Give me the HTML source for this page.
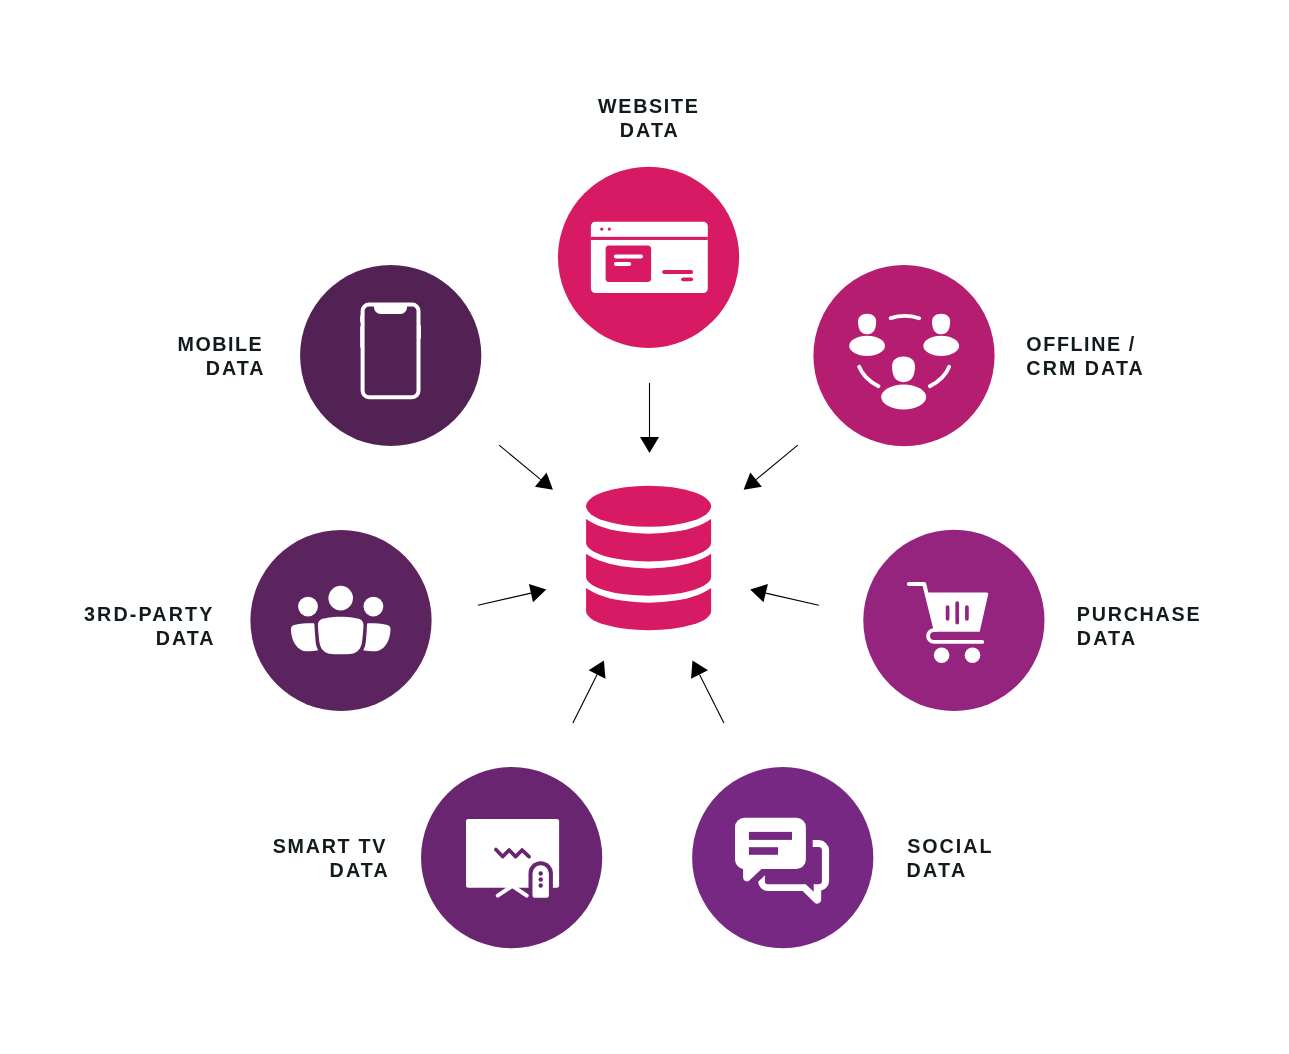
<!DOCTYPE html>
<html lang="en"><head><meta charset="utf-8"><title>Data sources</title>
<style>
html,body{margin:0;padding:0;background:#fff;}
body{width:1289px;height:1054px;overflow:hidden;}
svg{display:block;will-change:transform;}
text{font-family:"Liberation Sans",Arial,Helvetica,sans-serif;font-weight:700;font-size:19.7px;fill:#111a1c;}
</style></head><body>
<svg role="img" aria-label="Data sources feeding a central database" width="1289" height="1054" viewBox="0 0 1289 1054">
<g id="arrows" fill="#000" stroke="none">
<line x1="649.5" y1="383.0" x2="649.5" y2="437.0" stroke="#000" stroke-width="1.1"/>
<polygon points="649.5,453.1 640.0,437.0 659.0,437.0"/>
<line x1="499.1" y1="445.1" x2="540.8" y2="479.6" stroke="#000" stroke-width="1.1"/>
<polygon points="552.9,489.7 546.6,472.6 534.9,486.7"/>
<line x1="797.8" y1="445.1" x2="756.1" y2="479.6" stroke="#000" stroke-width="1.1"/>
<polygon points="743.6,489.7 750.3,472.6 761.9,486.7"/>
<line x1="477.9" y1="605.2" x2="531.0" y2="593.1" stroke="#000" stroke-width="1.1"/>
<polygon points="546.3,589.4 528.9,584.0 533.0,602.2"/>
<line x1="818.8" y1="605.2" x2="765.7" y2="593.1" stroke="#000" stroke-width="1.1"/>
<polygon points="750.2,589.4 767.9,584.0 763.5,602.2"/>
<line x1="572.9" y1="723.0" x2="597.1" y2="674.5" stroke="#000" stroke-width="1.1"/>
<polygon points="603.9,660.6 588.7,670.2 605.5,678.8"/>
<line x1="723.9" y1="723.0" x2="699.5" y2="674.5" stroke="#000" stroke-width="1.1"/>
<polygon points="692.5,660.6 708.0,670.2 691.0,678.8"/>
</g>
<g id="database">
<path fill="#d81a65" d="M586.1,575.3 L586.1,611.1 A62.5,19.1 0 0 0 711.1,611.1 L711.1,575.3 Z"/>
<ellipse cx="648.6" cy="575.3" rx="70.5" ry="27.4" fill="#fff"/>
<path fill="#d81a65" d="M586.1,541.0 L586.1,576.7 A62.5,19.1 0 0 0 711.1,576.7 L711.1,541.0 Z"/>
<ellipse cx="648.6" cy="541.0" rx="70.5" ry="27.4" fill="#fff"/>
<path fill="#d81a65" d="M586.1,506.3 L586.1,542.4 A62.5,19.1 0 0 0 711.1,542.4 L711.1,506.3 Z"/>
<ellipse cx="648.6" cy="506.3" rx="70.5" ry="27.4" fill="#fff"/>
<ellipse cx="648.6" cy="506.3" rx="62.5" ry="20.5" fill="#d81a65"/>
</g>
<g id="circles">
<circle cx="648.55" cy="257.3" r="90.6" fill="#d81a65"/>
<circle cx="390.7" cy="355.5" r="90.6" fill="#522255"/>
<circle cx="904.0" cy="355.6" r="90.6" fill="#b51e70"/>
<circle cx="341.0" cy="620.5" r="90.6" fill="#5c245e"/>
<circle cx="953.9" cy="620.45" r="90.6" fill="#95247e"/>
<circle cx="511.65" cy="857.65" r="90.6" fill="#69256f"/>
<circle cx="782.75" cy="857.65" r="90.6" fill="#772882"/>
</g>
<g id="icon-website">
<rect x="590.9" y="221.7" width="116.9" height="71.4" rx="4.5" fill="#fff"/>
<rect x="590.9" y="236.85" width="116.9" height="3.1" fill="#d81a65"/>
<circle cx="601.8" cy="229.1" r="1.7" fill="#d81a65"/>
<circle cx="609.3" cy="229.1" r="1.7" fill="#d81a65"/>
<rect x="605.6" y="245.6" width="45.5" height="36.3" rx="3.5" fill="#d81a65"/>
<rect x="613.9" y="254.6" width="29" height="4" rx="2" fill="#fff"/>
<rect x="613.9" y="261.9" width="17.3" height="4" rx="2" fill="#fff"/>
<rect x="662.1" y="270.0" width="31" height="4.1" rx="2.05" fill="#d81a65"/>
<rect x="681.1" y="277.4" width="12" height="3.9" rx="1.95" fill="#d81a65"/>
</g>
<g id="icon-mobile" fill="none" stroke="#fff">
<rect x="362.6" y="304.4" width="55.9" height="92.8" rx="6.5" stroke-width="4"/>
<path d="M374,304.4 v3 a6.5,6.5 0 0 0 6.5,6.5 h20 a6.5,6.5 0 0 0 6.5,-6.5 v-3" fill="#fff" stroke="none"/>
<path d="M361,316 v6 M361,327 v20 M420.2,326 v12" stroke-width="1.6" stroke-linecap="round"/>
</g>
<g id="icon-offline" fill="#fff">
<path d="M867.1,313.7 C872.71,313.7 876.15,316.77 876.15,321.49 C876.15,329.69 873.25,334.20 867.1,334.20 C860.95,334.20 858.05,329.69 858.05,321.49 C858.05,316.77 861.49,313.7 867.1,313.7 Z"/>
<path d="M941.1,313.7 C946.71,313.7 950.15,316.77 950.15,321.49 C950.15,329.69 947.25,334.20 941.1,334.20 C934.95,334.20 932.05,329.69 932.05,321.49 C932.05,316.77 935.49,313.7 941.1,313.7 Z"/>
<path d="M903.5,356.6 C910.60,356.6 914.95,360.44 914.95,366.33 C914.95,376.57 911.29,382.20 903.5,382.20 C895.71,382.20 892.05,376.57 892.05,366.33 C892.05,360.44 896.40,356.6 903.5,356.6 Z"/>
<ellipse cx="867.1" cy="345.85" rx="17.9" ry="10.1"/>
<ellipse cx="941.2" cy="345.85" rx="17.9" ry="10.1"/>
<ellipse cx="903.7" cy="397" rx="22.5" ry="12.5"/>
<g fill="none" stroke="#fff" stroke-width="3.8" stroke-linecap="round">
<path d="M890.6,318.1 Q904.8,313.6 919.2,318.2"/>
<path d="M859.2,366.7 Q863.8,378.6 878.5,386.2"/>
<path d="M949.2,366.7 Q944.6,378.6 929.8,386.2"/>
</g></g>
<g id="icon-thirdparty" fill="#fff">
<circle cx="340.7" cy="598.1" r="12.3"/>
<circle cx="308" cy="606.6" r="9.9"/>
<circle cx="373.4" cy="606.6" r="9.9"/>
<path d="M317.95,625.50 C317.95,621.23 319.85,619.15 324.12,618.39 C331.23,617.15 336.93,616.77 340.72,616.77 C344.52,616.77 350.21,617.15 357.32,618.39 C361.59,619.15 363.49,621.23 363.49,625.50 C363.30,630.72 362.73,636.41 362.16,641.16 C361.40,648.75 356.85,653.02 352.11,653.68 C346.41,654.54 335.03,654.54 329.34,653.68 C324.59,653.02 320.04,648.75 319.28,641.16 C318.71,636.41 318.14,630.72 317.95,625.50 Z"/>
<path d="M290.91,629.30 C290.91,626.45 292.33,625.22 295.18,624.65 C300.87,623.51 308.46,623.13 313.21,623.32 C313.97,623.32 314.35,623.70 314.44,624.55 C314.72,630.72 315.10,636.41 315.67,642.11 C316.05,645.90 317.00,648.27 318.24,650.36 C314.16,651.12 309.41,651.40 305.62,651.31 C298.03,650.65 291.20,642.11 290.91,629.30 Z"/>
<path d="M390.53,629.30 C390.53,626.45 389.11,625.22 386.26,624.65 C380.57,623.51 372.98,623.13 368.24,623.32 C367.48,623.32 367.10,623.70 367.00,624.55 C366.72,630.72 366.34,636.41 365.77,642.11 C365.39,645.90 364.44,648.27 363.21,650.36 C367.29,651.12 372.03,651.40 375.83,651.31 C383.42,650.65 390.25,642.11 390.53,629.30 Z"/>
</g>
<g id="icon-purchase">
<path d="M908.9,584 H924.2 L935.6,630" fill="none" stroke="#fff" stroke-width="4" stroke-linecap="round" stroke-linejoin="round"/>
<path d="M927.5,592.4 H986.7 Q988.6,592.4 988.2,594.3 L979.7,631.8 H935.5 Z" fill="#fff"/>
<path d="M935.5,630.1 H934 A5.9,5.9 0 0 0 934,641.9 H982.2" fill="none" stroke="#fff" stroke-width="3.9" stroke-linecap="round"/>
<circle cx="941.6" cy="655.2" r="7.8" fill="#fff"/>
<circle cx="972.5" cy="655.2" r="7.8" fill="#fff"/>
<path d="M947.6,607.1 V618.8 M957.2,603.1 V622.6 M966.9,607.1 V618.8" fill="none" stroke="#95247e" stroke-width="3.7" stroke-linecap="round"/>
</g>
<g id="icon-tv">
<path d="M512.3,885.8 L497.8,895.7 M512.3,885.8 L526.7,895.7" fill="none" stroke="#fff" stroke-width="4" stroke-linecap="round"/>
<rect x="466" y="819" width="93.1" height="68.7" rx="2.2" fill="#fff"/>
<path d="M495.9,849.5 L502.6,856.6 L509.1,850 L515.6,856.6 L522.1,850 L529,856.6" fill="none" stroke="#69256f" stroke-width="3.7" stroke-linecap="round" stroke-linejoin="round"/>
<path d="M528.5,888.5 V873.5 A12.2,12.2 0 0 1 552.9,873.5 V888.5 Z" fill="#69256f"/>
<path d="M532.5,896.2 V873.5 A8.2,8.2 0 0 1 548.9,873.5 V895.5 Q548.9,897.7 546.7,897.7 H534.7 Q532.5,897.7 532.5,895.5 Z" fill="#fff"/>
<circle cx="540.7" cy="873.5" r="2.2" fill="#69256f"/>
<circle cx="540.7" cy="879.5" r="2.2" fill="#69256f"/>
<circle cx="540.7" cy="885.5" r="2.2" fill="#69256f"/>
</g>
<g id="icon-social">
<path d="M812.7,840.1 H818.7 A10.4,10.4 0 0 1 829.1,850.5 V880.7 A9.8,9.8 0 0 1 821.2,890.5 V899.7 A4,4 0 0 1 814.4,902.5 L802.7,890.9 H767.8 A9.8,9.8 0 0 1 758.1,881.7 L764.9,875.3 V881.2 A3,3 0 0 0 767.8,884.2 H805.7 L813.7,891.7 V884.2 H818.7 A3.2,3.2 0 0 0 821.9,881.2 V849.8 A3.2,3.2 0 0 0 818.7,846.9 H812.7 Z" fill="#fff"/>
<path d="M744.5,817.8 H796.4 A9.5,9.5 0 0 1 805.9,827.3 V859.6 A9.5,9.5 0 0 1 796.4,869.1 H761.5 L749.6,880.2 A3.8,3.8 0 0 1 743.1,877.5 V868.9 A9.5,9.5 0 0 1 735,859.6 V827.3 A9.5,9.5 0 0 1 744.5,817.8 Z" fill="#fff"/>
<rect x="748.9" y="831.9" width="43.1" height="8" fill="#772882"/>
<rect x="748.9" y="847.2" width="29.1" height="7.6" fill="#772882"/>
</g>
<g id="labels">
<text x="598.09" y="113.00" textLength="99.71" lengthAdjust="spacing">WEBSITE</text>
<text x="619.69" y="137.00" textLength="58.12" lengthAdjust="spacing">DATA</text>
<text x="177.53" y="351.00" textLength="84.05" lengthAdjust="spacing">MOBILE</text>
<text x="205.69" y="375.00" textLength="57.89" lengthAdjust="spacing">DATA</text>
<text x="1026.37" y="351.00" textLength="107.82" lengthAdjust="spacing">OFFLINE /</text>
<text x="1026.37" y="375.00" textLength="116.37" lengthAdjust="spacing">CRM DATA</text>
<text x="84.01" y="621.00" textLength="128.35" lengthAdjust="spacing">3RD-PARTY</text>
<text x="155.69" y="645.00" textLength="57.89" lengthAdjust="spacing">DATA</text>
<text x="1076.78" y="621.00" textLength="122.82" lengthAdjust="spacing">PURCHASE</text>
<text x="1076.78" y="645.00" textLength="58.32" lengthAdjust="spacing">DATA</text>
<text x="272.76" y="853.00" textLength="112.67" lengthAdjust="spacing">SMART TV</text>
<text x="329.53" y="877.00" textLength="58.22" lengthAdjust="spacing">DATA</text>
<text x="907.13" y="853.00" textLength="84.47" lengthAdjust="spacing">SOCIAL</text>
<text x="906.53" y="877.00" textLength="58.57" lengthAdjust="spacing">DATA</text>
</g>
</svg>
</body></html>
